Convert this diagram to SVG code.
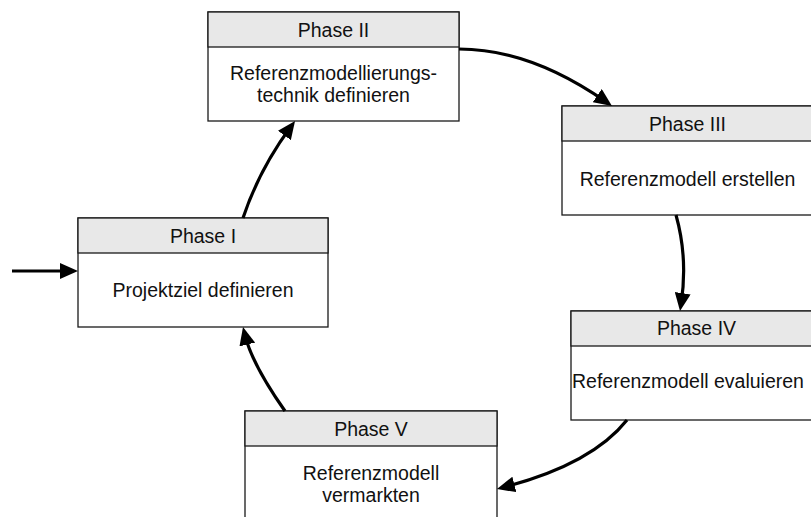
<svg xmlns="http://www.w3.org/2000/svg" width="811" height="517" viewBox="0 0 811 517">
  <style>
    .box { fill: #ffffff; stroke: #1a1a1a; stroke-width: 1.3; }
    .hdr { fill: #e8e8e8; stroke: #1a1a1a; stroke-width: 1.3; }
    .t { font-family: "Liberation Sans", Arial, sans-serif; font-size: 19.5px; fill: #111; text-anchor: middle; }
    .c { fill: none; stroke: #000; stroke-width: 3.2; }
  </style>
  <defs>
    <marker id="ah" markerUnits="userSpaceOnUse" viewBox="0 0 18 16" refX="10" refY="8" markerWidth="18" markerHeight="16" orient="auto">
      <path d="M0,0 L18,8 L0,16 z" fill="#000"/>
    </marker>
  </defs>
  <rect width="811" height="517" fill="#fff"/>

  <g id="phase1">
    <rect class="box" x="78" y="218" width="250" height="109"/>
    <rect class="hdr" x="78" y="218" width="250" height="35"/>
    <text class="t" x="203" y="243">Phase I</text>
    <text class="t" x="203" y="297">Projektziel definieren</text>
  </g>

  <g id="phase2">
    <rect class="box" x="208" y="12" width="251" height="109"/>
    <rect class="hdr" x="208" y="12" width="251" height="35"/>
    <text class="t" x="333.5" y="37">Phase II</text>
    <text class="t" x="333.5" y="80">Referenzmodellierungs-</text>
    <text class="t" x="333.5" y="102">technik definieren</text>
  </g>

  <g id="phase3">
    <rect class="box" x="562" y="106" width="251" height="109"/>
    <rect class="hdr" x="562" y="106" width="251" height="35"/>
    <text class="t" x="687.5" y="131">Phase III</text>
    <text class="t" x="687.5" y="186">Referenzmodell erstellen</text>
  </g>

  <g id="phase4">
    <rect class="box" x="571" y="311" width="251" height="109"/>
    <rect class="hdr" x="571" y="311" width="251" height="35"/>
    <text class="t" x="696.5" y="335">Phase IV</text>
    <text class="t" x="572" y="388" style="text-anchor:start">Referenzmodell evaluieren</text>
  </g>

  <g id="phase5">
    <rect class="box" x="245" y="411" width="252" height="109"/>
    <rect class="hdr" x="245" y="411" width="252" height="35"/>
    <text class="t" x="371" y="436">Phase V</text>
    <text class="t" x="371" y="480">Referenzmodell</text>
    <text class="t" x="371" y="502">vermarkten</text>
  </g>

  <g id="connectors">
    <path class="c" d="M12,271 L70,271" marker-end="url(#ah)"/>
    <path class="c" d="M243,218 Q259,170 290.3,127.4" marker-end="url(#ah)"/>
    <path class="c" d="M459,49 Q530,49 605.4,101.4" marker-end="url(#ah)"/>
    <path class="c" d="M676,215 Q688,258 681.2,303.1" marker-end="url(#ah)"/>
    <path class="c" d="M627,420 Q592,464 504.7,487" marker-end="url(#ah)"/>
    <path class="c" d="M285,411 Q252,364 244.9,334.8" marker-end="url(#ah)"/>
  </g>
</svg>
